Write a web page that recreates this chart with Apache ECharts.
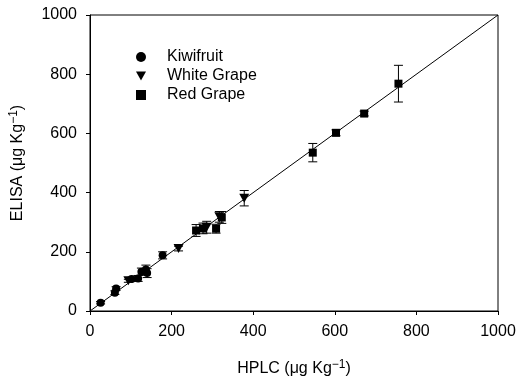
<!DOCTYPE html>
<html>
<head>
<meta charset="utf-8">
<script src="https://cdn.jsdelivr.net/npm/echarts@6/dist/echarts.min.js"></script>
<style>
  html, body { margin: 0; padding: 0; background: #fff; }
  #chart-container { width: 520px; height: 388px; }
</style>
</head>
<body>
<div id="chart-container"></div>
<script>
// 數據: [HPLC, ELISA, 誤差]
var kiwiData = [
    [26, 28, 4], [61, 62, 6], [64, 76, 6], [102, 108, 6], [118, 110, 10],
    [126, 133, 12], [137, 140, 15], [140, 128, 15], [178, 188, 12]
];
var whiteGrapeData = [
    [94, 102, 5], [217, 211, 8], [286, 283, 20], [317, 318, 18], [378, 381, 26]
];
var redGrapeData = [
    [260, 272, 20], [277, 279, 18], [309, 278, 15], [323, 316, 20],
    [546, 535, 31], [603, 602, 10], [672, 667, 8], [756, 768, 62]
];
var lineData = [[0, 0], [1000, 1000]];
var axisTicks = [0, 1000, 200]; // min, max, interval

var triDown = 'path://M0,0 L10,0 L5,9 Z';

var chart = echarts.init(document.getElementById('chart-container'));

// 誤差線
function errorBar(params, api) {
    var x = api.value(0), y = api.value(1), e = api.value(2);
    var top = api.coord([x, y + e]);
    var bot = api.coord([x, y - e]);
    var cap = 4.5;
    var st = { stroke: '#000', lineWidth: 1 };
    return {
        type: 'group',
        children: [
            { type: 'line', shape: { x1: top[0], y1: top[1], x2: bot[0], y2: bot[1] }, style: st },
            { type: 'line', shape: { x1: top[0] - cap, y1: top[1], x2: top[0] + cap, y2: top[1] }, style: st },
            { type: 'line', shape: { x1: bot[0] - cap, y1: bot[1], x2: bot[0] + cap, y2: bot[1] }, style: st }
        ]
    };
}

var font = 'Liberation Sans, Arial, sans-serif';
var fs = 16;
var nameStyle = {
    fontFamily: font, fontSize: fs, color: '#000',
    rich: { sup: { fontFamily: font, fontSize: 12, verticalAlign: 'top', padding: [0, 0, 8, 0], color: '#000' } }
};

var option = {
    animation: false,
    grid: {
        left: 88, right: 22, top: 15, bottom: 77,
        show: true, borderColor: '#000', borderWidth: 1
    },
    legend: {
        orient: 'vertical',
        left: 131, top: 44,
        itemWidth: 10, itemHeight: 10, itemGap: 3,
        textStyle: { fontFamily: font, fontSize: fs, color: '#000', padding: [0, 0, 0, 16] },
        data: [
            { name: 'Kiwifruit', icon: 'circle' },
            { name: 'White Grape', icon: triDown },
            { name: 'Red Grape', icon: 'rect' }
        ]
    },
    xAxis: {
        type: 'value', min: axisTicks[0], max: axisTicks[1], interval: axisTicks[2],
        splitLine: { show: false },
        axisLine: { lineStyle: { color: '#000' } },
        axisTick: { length: 4, lineStyle: { color: '#000' } },
        axisLabel: { fontFamily: font, fontSize: fs, color: '#000', margin: 13, formatter: function (v) { return String(v); } },
        name: 'HPLC (μg Kg{sup|−1})',
        nameLocation: 'middle', nameGap: 48,
        nameTextStyle: nameStyle
    },
    yAxis: {
        type: 'value', min: axisTicks[0], max: axisTicks[1], interval: axisTicks[2],
        splitLine: { show: false },
        axisLine: { lineStyle: { color: '#000' } },
        axisTick: { length: 4, lineStyle: { color: '#000' } },
        axisLabel: { fontFamily: font, fontSize: fs, color: '#000', margin: 13, formatter: function (v) { return String(v); } },
        name: 'ELISA (μg Kg{sup|−1})',
        nameLocation: 'middle', nameGap: 62,
        nameTextStyle: nameStyle
    },
    series: [
        {
            type: 'line', data: lineData, symbol: 'none', silent: true,
            lineStyle: { color: '#000', width: 1 }, z: 1
        },
        { type: 'custom', renderItem: errorBar, data: kiwiData, z: 2 },
        { type: 'custom', renderItem: errorBar, data: whiteGrapeData, z: 2 },
        { type: 'custom', renderItem: errorBar, data: redGrapeData, z: 2 },
        {
            name: 'Kiwifruit', type: 'scatter', data: kiwiData, symbol: 'circle', symbolSize: 8,
            itemStyle: { color: '#000', opacity: 1 }, z: 3
        },
        {
            name: 'White Grape', type: 'scatter', data: whiteGrapeData, symbol: triDown, symbolSize: [10, 9],
            itemStyle: { color: '#000', opacity: 1 }, z: 3
        },
        {
            name: 'Red Grape', type: 'scatter', data: redGrapeData, symbol: 'rect', symbolSize: 8,
            itemStyle: { color: '#000', opacity: 1 }, z: 3
        }
    ]
};

chart.setOption(option);
</script>
</body>
</html>
